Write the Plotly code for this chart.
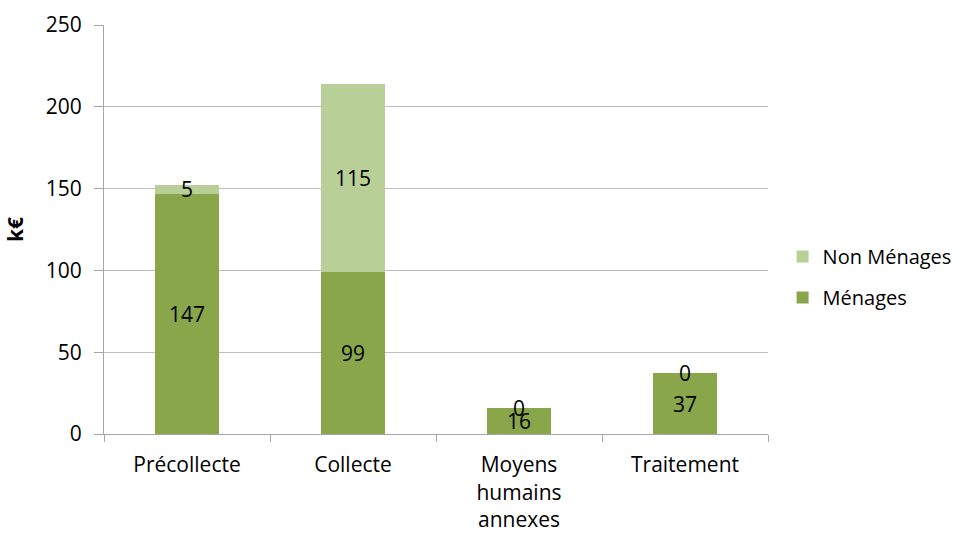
import plotly.graph_objects as go

categories = ["Précollecte", "Collecte", "Moyens<br>humains<br>annexes", "Traitement"]
menages = [147, 99, 16, 37]
non_menages = [5, 115, 0, 0]
y_ticks = [0, 50, 100, 150, 200, 250]

dark = "#8aa64b"
light = "#b8cf98"
font_family = "'Open Sans', sans-serif"

fig = go.Figure()
fig.add_trace(go.Bar(x=categories, y=menages, name="Ménages", marker_color=dark,
                     marker_line_width=0, width=0.39, legendgroup="m", legendrank=2))
fig.add_trace(go.Bar(x=categories, y=non_menages, name="Non Ménages", marker_color=light,
                     marker_line_width=0, width=0.39, legendgroup="n", legendrank=1))

annotations = []
for c, m, n in zip(categories, menages, non_menages):
    annotations.append(dict(x=c, y=m / 2, text=str(m), showarrow=False,
                            font=dict(size=21, color="black", family=font_family)))
    annotations.append(dict(x=c, y=m + n / 2, text=str(n), showarrow=False,
                            font=dict(size=21, color="black", family=font_family)))

fig.update_layout(
    barmode="stack",
    width=966, height=535,
    margin=dict(l=104, r=198, t=25, b=101, autoexpand=False),
    plot_bgcolor="white", paper_bgcolor="white",
    font=dict(family=font_family, size=21, color="black"),
    annotations=annotations,
    legend=dict(x=1.022, y=0.384, yanchor="middle", xanchor="left",
                traceorder="grouped", font=dict(size=20),
                itemsizing="constant", tracegroupgap=12),
    xaxis=dict(showline=True, linecolor="#a6a6a6", linewidth=1,
               ticks="outside", tickson="boundaries", ticklen=7, tickcolor="#a6a6a6",
               showgrid=False, ticklabelstandoff=12),
    yaxis=dict(range=[0, 250], tickvals=y_ticks, showline=True, linecolor="#a6a6a6",
               linewidth=1, ticks="outside", ticklen=9, tickcolor="#a6a6a6",
               gridcolor="#bfbfbf", gridwidth=1, zeroline=False, ticklabelstandoff=8,
               title=dict(text="<b>k€</b>", font=dict(size=21), standoff=16)),
)

fig.write_html("out.html")
